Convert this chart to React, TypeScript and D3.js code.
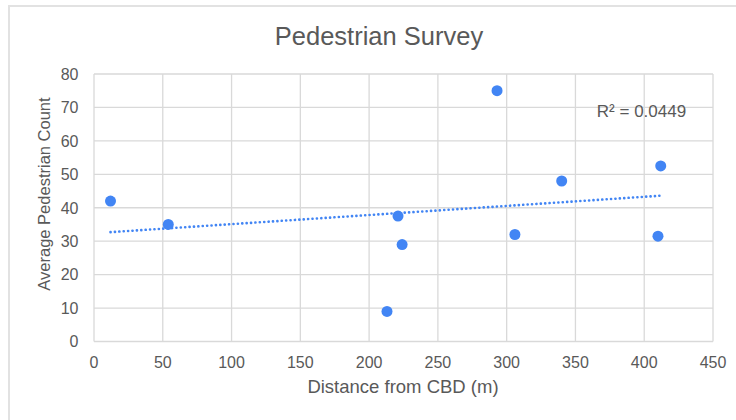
import React from "react";
import * as d3 from "d3";

// Survey observations: distance from the CBD (m) and average pedestrian count
const distances = [12, 54, 221, 224, 213, 293, 306, 340, 412, 410];
const counts = [42, 35, 37.5, 29, 9, 75, 32, 48, 52.5, 31.5];

const xTicks = [0, 50, 100, 150, 200, 250, 300, 350, 400, 450];
const yTicks = [0, 10, 20, 30, 40, 50, 60, 70, 80];

const chartTitle = "Pedestrian Survey";
const xTitle = "Distance from CBD (m)";
const yTitle = "Average Pedestrian Count";
const rSquaredLabel = "R² = 0.0449";

const W = 736;
const H = 420;
const margin = { left: 94, right: 23, top: 74, bottom: 78.5 };

const BLUE = "#4285F4";
const GRID = "#d9d9d9";
const TEXT = "#595959";
const FONT = "'Liberation Sans', Arial, sans-serif";

export default function App() {
  const x = d3
    .scaleLinear()
    .domain([0, 450])
    .range([margin.left, W - margin.right]);
  const y = d3
    .scaleLinear()
    .domain([0, 80])
    .range([H - margin.bottom, margin.top]);

  // Least-squares linear trendline over the observed range
  const mx = d3.mean(distances)!;
  const my = d3.mean(counts)!;
  let sxy = 0;
  let sxx = 0;
  distances.forEach((d, i) => {
    sxy += (d - mx) * (counts[i] - my);
    sxx += (d - mx) * (d - mx);
  });
  const slope = sxy / sxx;
  const intercept = my - slope * mx;
  const [x0, x1] = d3.extent(distances) as [number, number];
  const trend = d3
    .line<number>()
    .x((d) => x(d))
    .y((d) => y(intercept + slope * d))([x0, x1]);

  const points = distances.map((d, i) => ({ d, c: counts[i] }));

  return (
    <svg
      width={W}
      height={H}
      style={{ position: "absolute", left: 0, top: 0, background: "#fff" }}
      fontFamily={FONT}
    >
      {/* outer chart frame */}
      <rect x={9} y={6} width={W + 20} height={H + 20} fill="#fff" stroke="#e2e2e2" strokeWidth={2} />

      <text x={379} y={45} textAnchor="middle" fontSize={25.5} fill={TEXT}>
        {chartTitle}
      </text>

      {/* grid */}
      {xTicks.map((t) => (
        <line key={"gx" + t} x1={x(t)} x2={x(t)} y1={y(80)} y2={y(0)} stroke={GRID} strokeWidth={1.3} />
      ))}
      {yTicks.map((t) => (
        <line key={"gy" + t} x1={x(0)} x2={x(450)} y1={y(t)} y2={y(t)} stroke={GRID} strokeWidth={1.3} />
      ))}

      {/* tick labels */}
      {yTicks.map((t) => (
        <text key={"ty" + t} x={78.5} y={y(t)} dy="0.36em" textAnchor="end" fontSize={16} fill={TEXT}>
          {t}
        </text>
      ))}
      {xTicks.map((t) => (
        <text key={"tx" + t} x={x(t)} y={367.5} textAnchor="middle" fontSize={16} fill={TEXT}>
          {t}
        </text>
      ))}

      <text x={403} y={393} textAnchor="middle" fontSize={18.5} fill={TEXT}>
        {xTitle}
      </text>
      <text
        transform={`translate(49.5,${194}) rotate(-90)`}
        textAnchor="middle"
        fontSize={16.5}
        fill={TEXT}
      >
        {yTitle}
      </text>

      {/* trendline */}
      <path
        d={trend ?? ""}
        fill="none"
        stroke={BLUE}
        strokeWidth={2.6}
        strokeLinecap="round"
        strokeDasharray="0.1 4.3"
      />

      {points.map((p, i) => (
        <circle key={i} cx={x(p.d)} cy={y(p.c)} r={5.5} fill={BLUE} />
      ))}

      <text x={641.5} y={116.5} textAnchor="middle" fontSize={17} fill={TEXT}>
        {rSquaredLabel}
      </text>
    </svg>
  );
}
